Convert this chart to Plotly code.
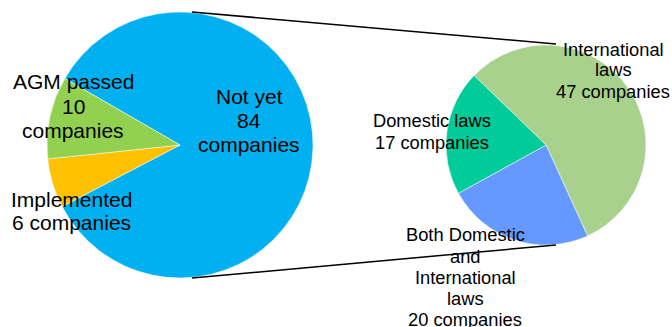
import plotly.graph_objects as go

# Main pie: status of all companies
main_labels = ["Not yet", "Implemented", "AGM passed"]
main_values = [84, 6, 10]
main_colors = ["#00B0F0", "#FFC000", "#92D050"]
# text lines for each slice label; "{v}" is replaced with the slice value
main_text = [
    ["Not yet", "{v}", "companies"],
    ["Implemented", "{v} companies"],
    ["AGM passed", "{v}", "companies"],
]

# Secondary pie: breakdown of the "Not yet" group
sub_labels = ["International laws", "Both Domestic and International laws", "Domestic laws"]
sub_values = [47, 20, 17]
sub_colors = ["#A9D18E", "#6699FF", "#00CC99"]
sub_text = [
    ["International", "laws", "{v} companies"],
    ["Both Domestic", "and", "International", "laws", "{v} companies"],
    ["Domestic laws", "{v} companies"],
]

W, H = 672, 327
FONT = "Arial, Liberation Sans, sans-serif"


def px_x(x):
    return x / W


def px_y(y):
    return 1 - y / H


fig = go.Figure()

fig.add_trace(go.Pie(
    labels=main_labels, values=main_values,
    marker=dict(colors=main_colors, line=dict(color="white", width=0.5)),
    sort=False, direction="clockwise", rotation=-60,
    textinfo="none", hoverinfo="label+value", showlegend=False,
    domain=dict(x=[px_x(47), px_x(313)], y=[px_y(278), px_y(12)]),
))

fig.add_trace(go.Pie(
    labels=sub_labels, values=sub_values,
    marker=dict(colors=sub_colors, line=dict(color="white", width=0.5)),
    sort=False, direction="clockwise", rotation=-46,
    textinfo="none", hoverinfo="label+value", showlegend=False,
    domain=dict(x=[px_x(446), px_x(646)], y=[px_y(245), px_y(45)]),
))

# label anchor (centre of first text line, in pixels), font size, line step
main_pos = [(249, 97), (71, 199), (73, 82)]
sub_pos = [(613, 49), (465, 235), (432, 121)]

annotations = []


def add_label(lines, value, pos, size, step):
    x0, y0 = pos
    for i, line in enumerate(lines):
        annotations.append(dict(
            text=line.replace("{v}", str(value)),
            x=px_x(x0), y=px_y(y0 + i * step),
            xref="paper", yref="paper",
            xanchor="center", yanchor="middle",
            showarrow=False,
            font=dict(family=FONT, size=size, color="#000000"),
        ))


for lines, v, pos in zip(main_text, main_values, main_pos):
    add_label(lines, v, pos, 21, 24)
for lines, v, pos in zip(sub_text, sub_values, sub_pos):
    add_label(lines, v, pos, 18.3, 21)

# connector lines between the two pies
shapes = [
    dict(type="line", xref="paper", yref="paper",
         x0=px_x(192), y0=px_y(12), x1=px_x(556), y1=px_y(44),
         line=dict(color="#000000", width=1.5)),
    dict(type="line", xref="paper", yref="paper",
         x0=px_x(192), y0=px_y(278), x1=px_x(556), y1=px_y(245),
         line=dict(color="#000000", width=1.5)),
]

fig.update_layout(
    width=W, height=H, autosize=False,
    margin=dict(l=0, r=0, t=0, b=0),
    paper_bgcolor="white", plot_bgcolor="white",
    annotations=annotations, shapes=shapes,
)

fig.write_html("out.html")
